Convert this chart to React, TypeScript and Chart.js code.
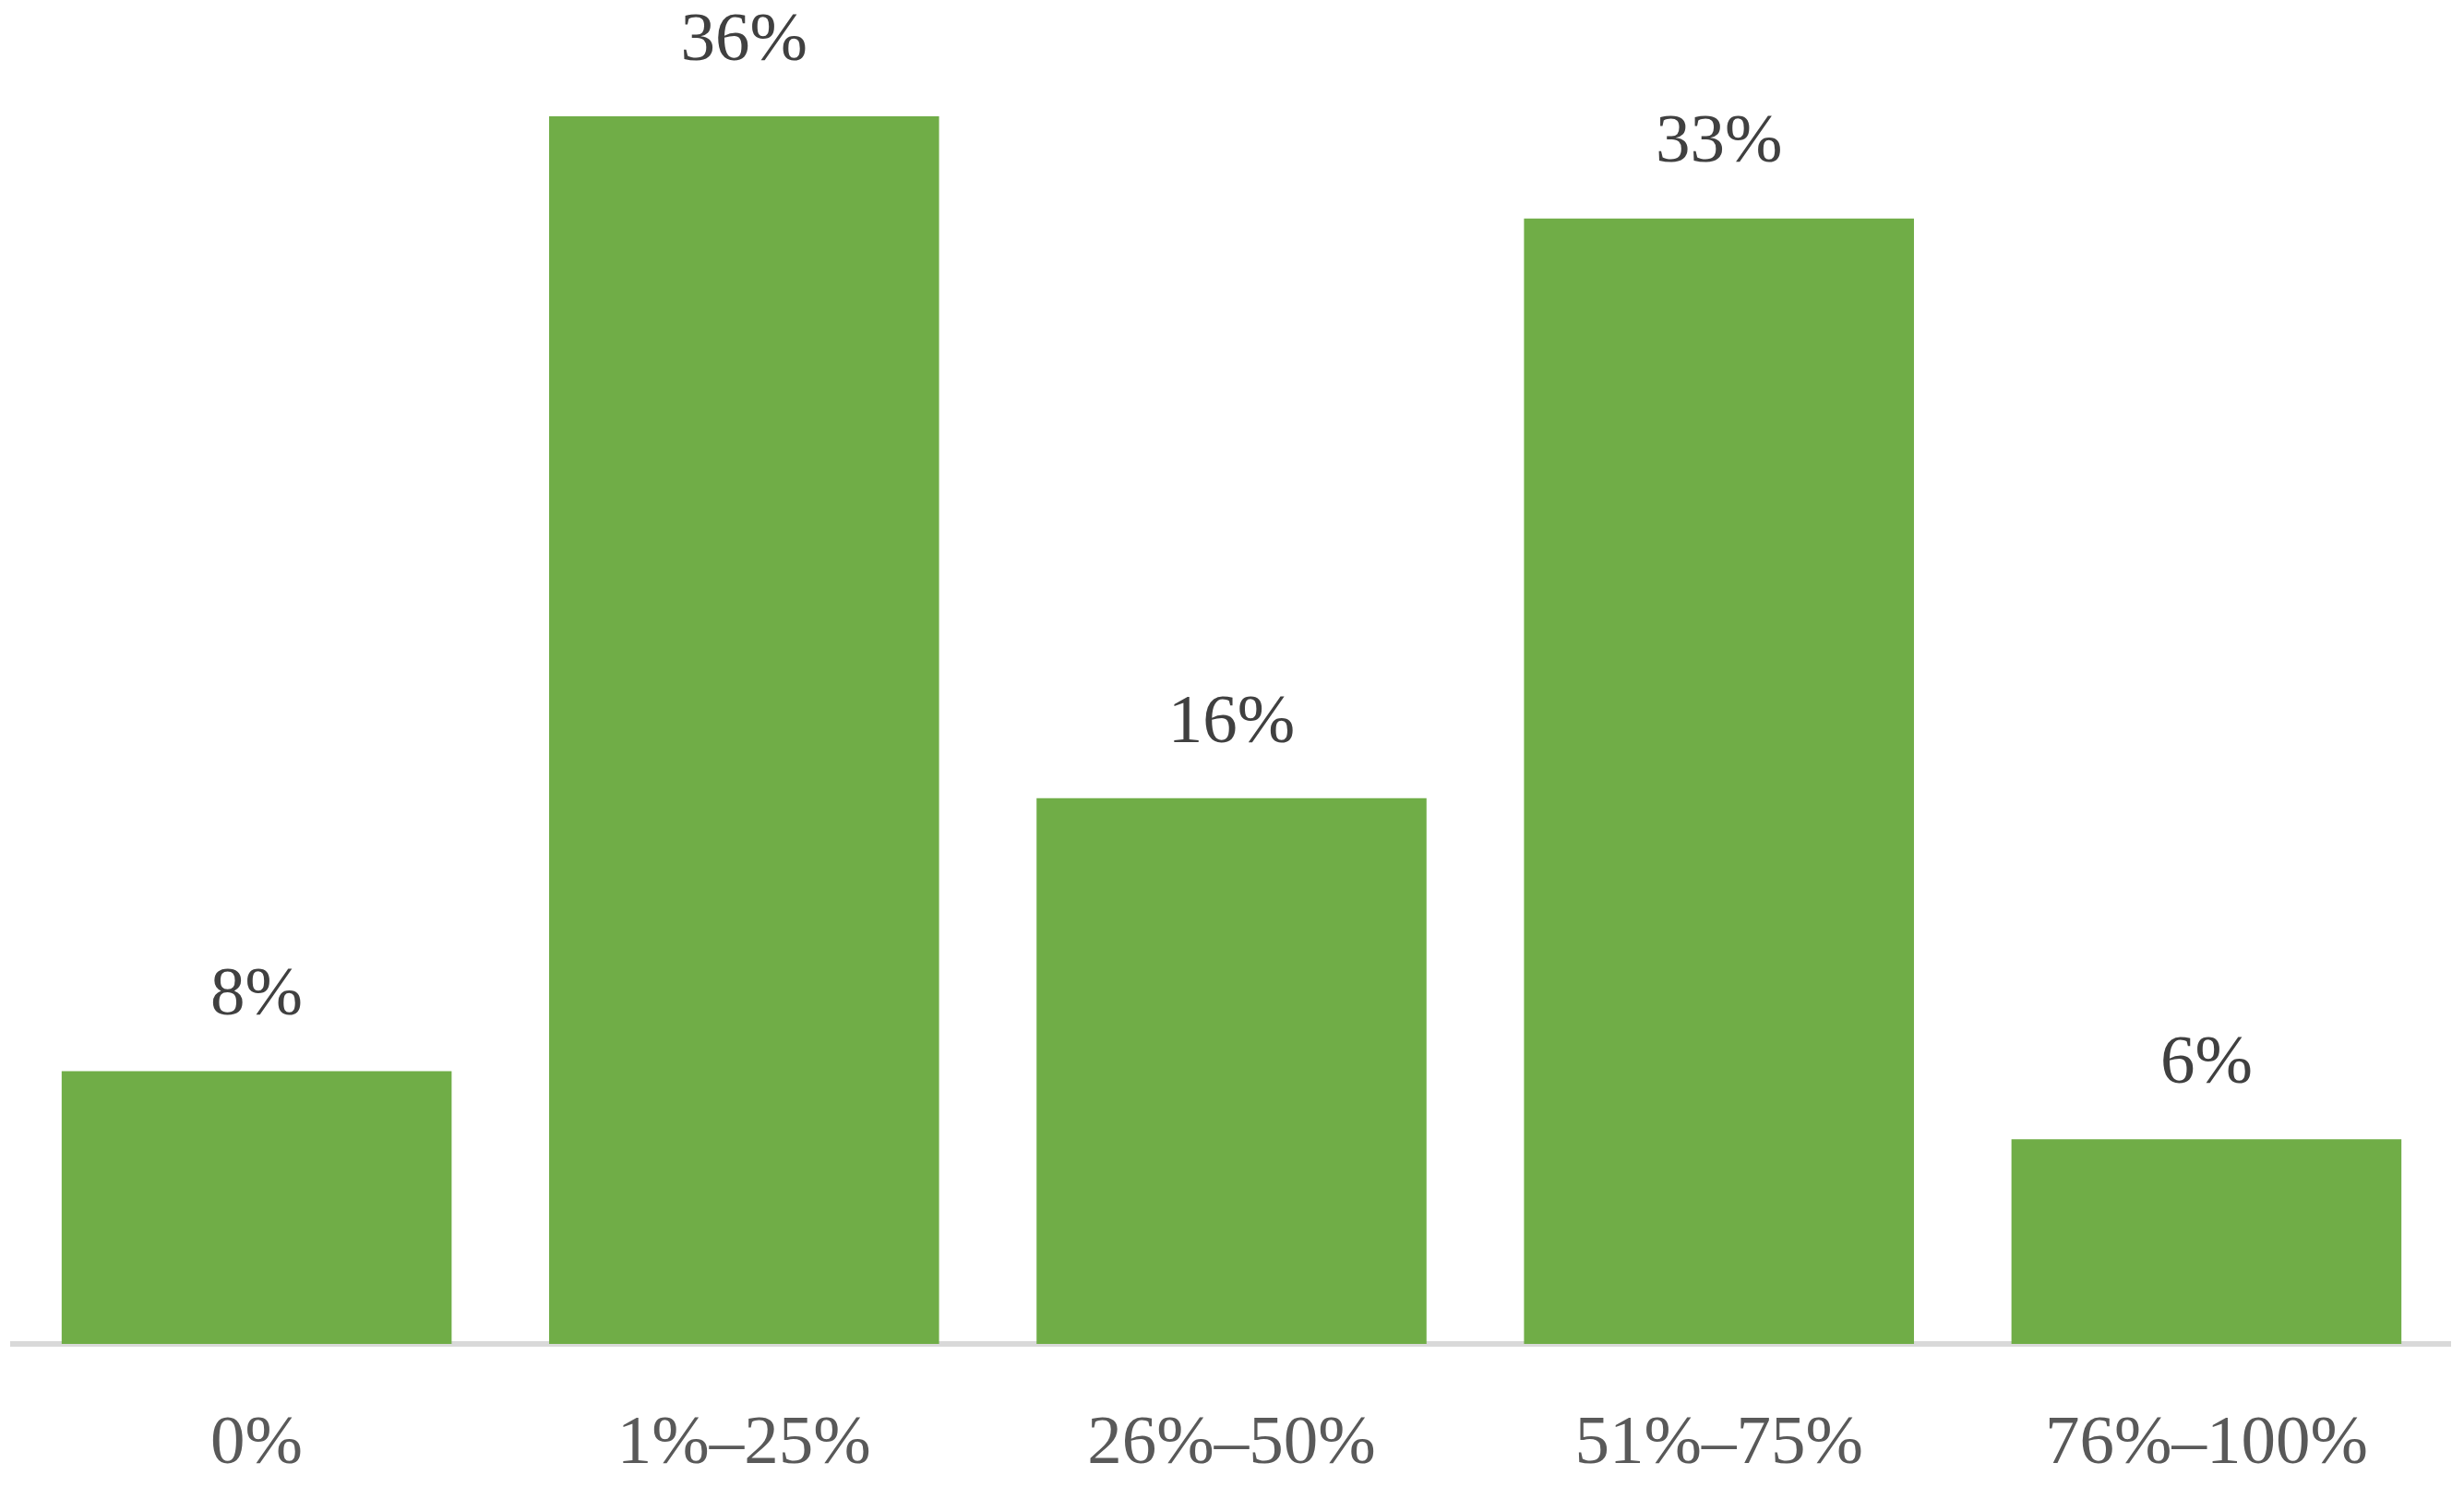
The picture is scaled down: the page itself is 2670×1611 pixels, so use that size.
import React, { useEffect, useRef } from "react";
import { Chart, registerables } from "chart.js";

Chart.register(...registerables);

const categories = ["0%", "1%–25%", "26%–50%", "51%–75%", "76%–100%"];
const values = [8, 36, 16, 33, 6];
const yMax = 38;

const FONT = "'Liberation Serif', 'Times New Roman', serif";

const dataLabelPlugin = {
  id: "dataLabels",
  afterDatasetsDraw(chart: any) {
    const ctx = chart.ctx;
    const meta = chart.getDatasetMeta(0);
    ctx.save();
    ctx.font = `75px ${FONT}`;
    ctx.fillStyle = "#404040";
    ctx.textAlign = "center";
    ctx.textBaseline = "middle";
    meta.data.forEach((bar: any, i: number) => {
      ctx.fillText(`${values[i]}%`, bar.x, bar.y - 81);
    });
    ctx.restore();
  },
};

export default function App() {
  const canvasRef = useRef<HTMLCanvasElement | null>(null);

  useEffect(() => {
    if (!canvasRef.current) return;
    const chart = new Chart(canvasRef.current, {
      type: "bar",
      data: {
        labels: categories,
        datasets: [
          {
            data: values,
            backgroundColor: "#70AD47",
            borderWidth: 0,
            barPercentage: 0.8,
            categoryPercentage: 1.0,
          },
        ],
      },
      options: {
        responsive: false,
        animation: false,
        layout: { padding: { left: 6, right: 7, top: 44, bottom: 0 } },
        plugins: {
          legend: { display: false },
          tooltip: { enabled: false },
        },
        scales: {
          x: {
            grid: { display: false, drawTicks: true, tickLength: 72 },
            border: { display: true, color: "#D9D9D9", width: 6 },
            ticks: {
              color: "#595959",
              padding: 0,
              font: { family: FONT, size: 75, lineHeight: 1 },
              maxRotation: 0,
              autoSkip: false,
            },
          },
          y: {
            display: false,
            min: 0,
            max: yMax,
          },
        },
      },
      plugins: [dataLabelPlugin],
    });
    return () => chart.destroy();
  }, []);

  return (
    <div style={{ width: 2654, height: 1595 }}>
      <canvas ref={canvasRef} width={2654} height={1595} style={{ display: "block" }} />
    </div>
  );
}
